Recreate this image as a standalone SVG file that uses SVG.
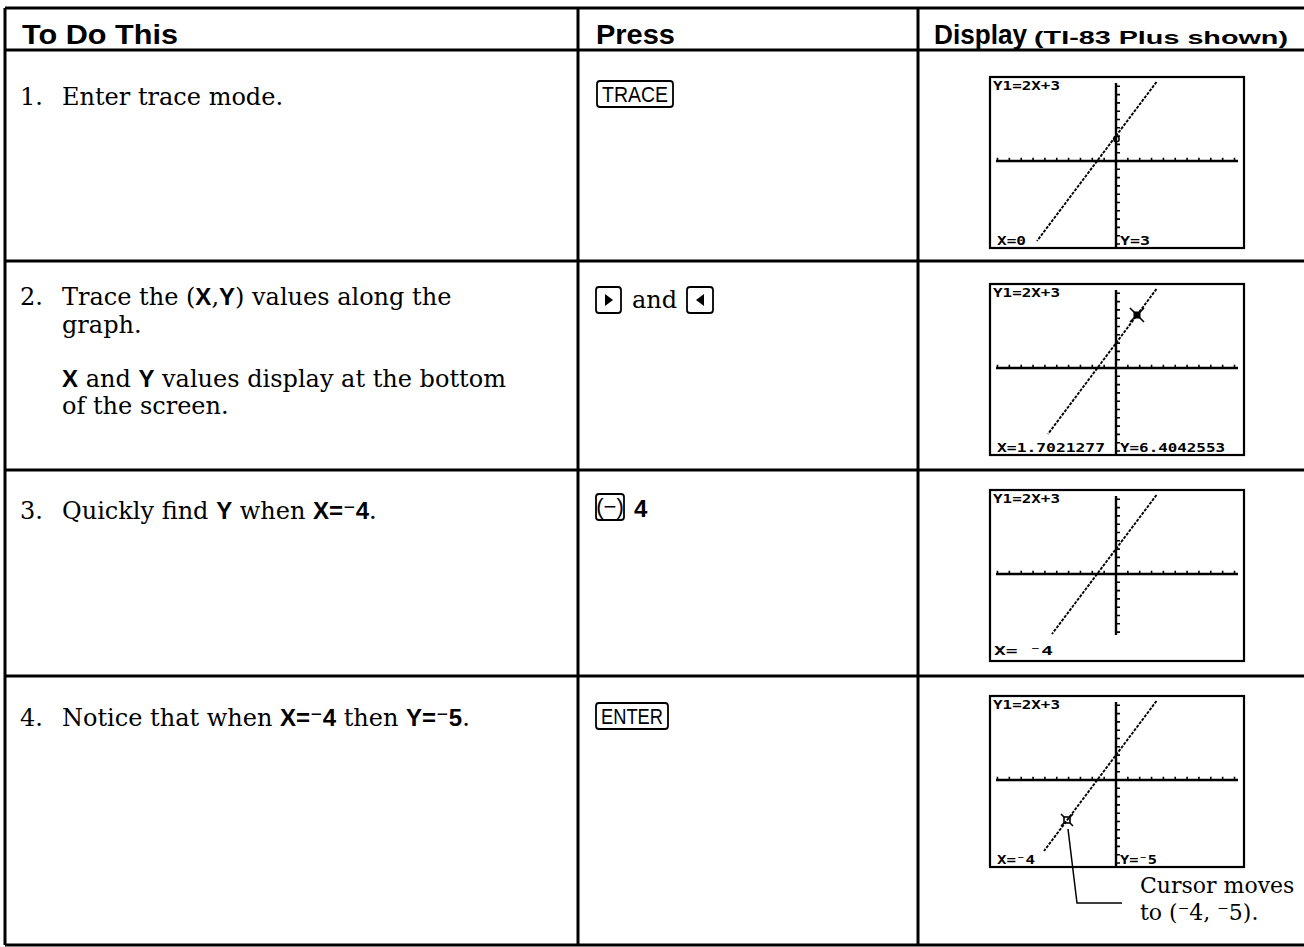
<svg xmlns="http://www.w3.org/2000/svg" xmlns:xlink="http://www.w3.org/1999/xlink" width="1304" height="947" viewBox="0 0 1304 947">
<style>
.grid{stroke:#000;stroke-width:3;fill:none}
.hd{font-family:"Liberation Sans",Arial,sans-serif;font-weight:bold;font-size:28px;fill:#000}
.hs{font-size:18px}
.tx{font-family:"DejaVu Serif","Liberation Serif",serif;font-size:24px;fill:#000}
.cl{font-size:22px}
.b{font-family:"Liberation Sans","DejaVu Sans",Arial,sans-serif;font-weight:bold;font-size:24px}
.key{fill:#fff;stroke:#000;stroke-width:1.8}
.kt{font-family:"Liberation Sans",Arial,sans-serif;font-size:22px;fill:#000}
.scr{fill:#fff;stroke:#000;stroke-width:2.2}
.ax{stroke:#000;stroke-width:2.4;fill:none}
.tk{stroke:#000;stroke-width:1.6;fill:none}
.gl{stroke:#000;stroke-width:1.9;stroke-dasharray:3 1.3;fill:none}
.px{font-family:"DejaVu Sans Mono","Liberation Mono",monospace;font-weight:bold;font-size:12.5px;fill:#000}
.cur{fill:none;stroke:#000;stroke-width:1.6}
.call{stroke:#000;stroke-width:1.5;fill:none}
</style>
<defs>
<g id="axes">
<path class="ax" d="M6 84H248M126 6V145"/>
<path class="tk" d="M7.5 80.8V84M19.35 80.8V84M31.2 80.8V84M43.05 80.8V84M54.9 80.8V84M66.75 80.8V84M78.6 80.8V84M90.45 80.8V84M102.3 80.8V84M114.15 80.8V84M137.85 80.8V84M149.7 80.8V84M161.55 80.8V84M173.4 80.8V84M185.25 80.8V84M197.1 80.8V84M208.95 80.8V84M220.8 80.8V84M232.65 80.8V84M244.5 80.8V84"/>
<path class="tk" d="M126 9.3H130M126 17.6H130M126 25.9H130M126 34.2H130M126 42.5H130M126 50.8H130M126 59.1H130M126 67.4H130M126 75.7H130M126 92.3H130M126 100.6H130M126 108.9H130M126 117.2H130M126 125.5H130M126 133.8H130M126 142.1H130"/>
<text class="px" x="3" y="13" textLength="67" lengthAdjust="spacingAndGlyphs">Y1=2X+3</text>
</g>
<g id="axlow">
<path class="ax" d="M126 145V171"/>
<path class="tk" d="M126 150.4H130M126 158.7H130M126 167H130"/>
</g>
</defs>

<g id="table-grid">
<path class="grid" d="M5 8H1304M5 50H1304M5 261H1304M5 470H1304M5 676H1304M5 945H1304M5 8V945M578 8V945M918 8V945"/>
</g>

<g id="header">
<text class="hd" x="22" y="44" textLength="156" lengthAdjust="spacingAndGlyphs">To Do This</text>
<text class="hd" x="596" y="44" textLength="79" lengthAdjust="spacingAndGlyphs">Press</text>
<text class="hd" x="934" y="44" textLength="93" lengthAdjust="spacingAndGlyphs">Display</text>
<text class="hd hs" x="1034" y="44" textLength="254" lengthAdjust="spacingAndGlyphs">(TI-83 Plus shown)</text>
</g>

<g id="row1">
<text class="tx" x="20" y="105">1.</text>
<text class="tx" x="62" y="105">Enter trace mode.</text>
<rect class="key" x="597" y="81" width="76" height="26" rx="3"/>
<text class="kt" x="635" y="102" text-anchor="middle" textLength="66" lengthAdjust="spacingAndGlyphs">TRACE</text>
<g id="screen1" transform="translate(990,77)">
<rect class="scr" x="0" y="0" width="254" height="171"/>
<use xlink:href="#axes"/>
<use xlink:href="#axlow"/>
<path class="gl" d="M166.5 5L47 164"/>
<rect class="cur" x="124" y="59.5" width="5" height="5" rx="1.5"/>
<text class="px" x="7" y="168" textLength="29" lengthAdjust="spacingAndGlyphs">X=0</text>
<text class="px" x="130" y="168" textLength="30" lengthAdjust="spacingAndGlyphs">Y=3</text>
</g>
</g>

<g id="row2">
<text class="tx" x="20" y="305">2.</text>
<text class="tx" x="62" y="305">Trace the (<tspan class="b">X</tspan>,<tspan class="b">Y</tspan>) values along the</text>
<text class="tx" x="62" y="333">graph.</text>
<text class="tx" x="62" y="387"><tspan class="b">X</tspan> and <tspan class="b">Y</tspan> values display at the bottom</text>
<text class="tx" x="62" y="414">of the screen.</text>
<rect class="key" x="596" y="287" width="25" height="26" rx="3"/>
<path d="M605 294L613 300L605 306Z" fill="#000"/>
<text class="tx" x="632" y="308">and</text>
<rect class="key" x="687" y="287" width="26" height="26" rx="3"/>
<path d="M704 294L696 300L704 306Z" fill="#000"/>
<g id="screen2" transform="translate(990,284)">
<rect class="scr" x="0" y="0" width="254" height="171"/>
<use xlink:href="#axes"/>
<use xlink:href="#axlow"/>
<path class="gl" d="M166.5 5L58 150"/>
<rect x="143.5" y="27.5" width="7" height="7" fill="#000"/>
<path class="cur" d="M140 24L154 38M154 24L140 38"/>
<text class="px" x="7" y="168" textLength="108" lengthAdjust="spacingAndGlyphs">X=1.7021277</text>
<text class="px" x="130" y="168" textLength="105" lengthAdjust="spacingAndGlyphs">Y=6.4042553</text>
</g>
</g>

<g id="row3">
<text class="tx" x="20" y="519">3.</text>
<text class="tx" x="62" y="519">Quickly find <tspan class="b">Y</tspan> when <tspan class="b">X=⁻4</tspan>.</text>
<rect class="key" x="596" y="494" width="28" height="26" rx="3"/>
<text class="kt" x="610" y="514" text-anchor="middle" font-size="18">(−)</text>
<text class="b" x="634" y="517">4</text>
<g id="screen3" transform="translate(990,490)">
<rect class="scr" x="0" y="0" width="254" height="171"/>
<use xlink:href="#axes"/>
<path class="gl" d="M166.5 5L62 144"/>
<text class="px" x="4" y="165" font-size="22" font-weight="normal" textLength="59" lengthAdjust="spacingAndGlyphs">X= ⁻4</text>
</g>
</g>

<g id="row4">
<text class="tx" x="20" y="726">4.</text>
<text class="tx" x="62" y="726">Notice that when <tspan class="b">X=⁻4</tspan> then <tspan class="b">Y=⁻5</tspan>.</text>
<rect class="key" x="596" y="703" width="72" height="26" rx="3"/>
<text class="kt" x="632" y="724" text-anchor="middle" textLength="62" lengthAdjust="spacingAndGlyphs">ENTER</text>
<g id="screen4" transform="translate(990,696)">
<rect class="scr" x="0" y="0" width="254" height="171"/>
<use xlink:href="#axes"/>
<use xlink:href="#axlow"/>
<path class="gl" d="M166.5 5L54 155"/>
<rect class="cur" x="74" y="121" width="6" height="6"/>
<path class="cur" d="M71 118L74 121M83 118L80 121M71 130L74 127M83 130L80 127"/>
<text class="px" x="7" y="168" textLength="38" lengthAdjust="spacingAndGlyphs">X=⁻4</text>
<text class="px" x="130" y="168" textLength="37" lengthAdjust="spacingAndGlyphs">Y=⁻5</text>
</g>
<text class="tx cl" x="1140" y="893">Cursor moves</text>
<text class="tx cl" x="1140" y="920">to (⁻4, ⁻5).</text>
</g>

<g id="connectors">
<polyline class="call" points="1068,829 1077,903 1122,903"/>
</g>
</svg>
